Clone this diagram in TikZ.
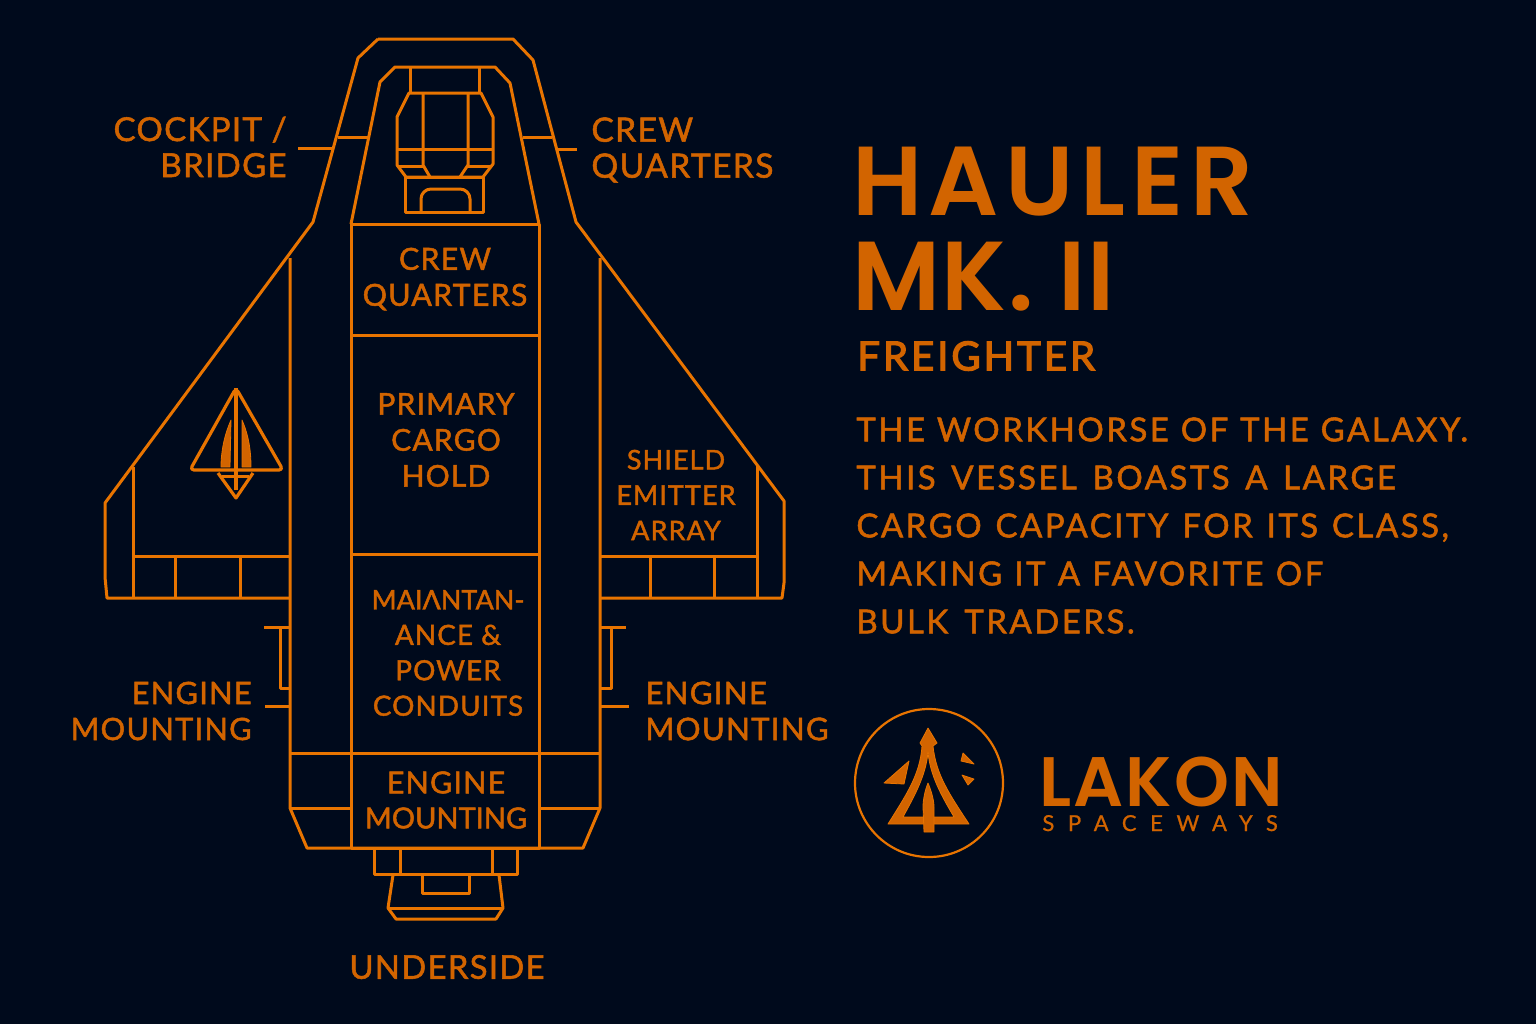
\documentclass[tikz,border=0pt]{standalone}
\usepackage{fontspec}
\setmainfont{Lato}
\newfontfamily\labelfont[LetterSpace=4,FakeBold=1.6]{Lato}
\newfontfamily\tightfont[LetterSpace=0,FakeBold=1.6]{Lato}
\newfontfamily\titlefont[LetterSpace=6.5]{Poppins SemiBold}
\newfontfamily\marktitle[LetterSpace=1.5]{Poppins SemiBold}
\newfontfamily\logofont[LetterSpace=3]{Poppins SemiBold}
\newfontfamily\subfont[LetterSpace=7.5,FakeBold=3.2]{Lato}
\newfontfamily\blurbfont[LetterSpace=7.5,FakeBold=1.6]{Lato}
\newfontfamily\wayfont[LetterSpace=62,FakeBold=.8]{Lato}
\definecolor{spacebg}{HTML}{000A1C}
\definecolor{hullline}{HTML}{E87400}
\definecolor{printtext}{HTML}{D26400}
\tikzset{
  hull/.style={draw=hullline, line width=1.5pt, line join=round},
  solid mark/.style={fill=printtext, draw=hullline, line width=.4pt, line join=round},
  tag/.style={text=printtext, font=\labelfont\fontsize{15.2}{18}\selectfont, align=center, inner sep=0pt},
  tagr/.style={tag, align=right},
  tagl/.style={tag, align=left},
  blurb/.style={text=printtext, font=\blurbfont\fontsize{16.5}{24}\selectfont, align=left, inner sep=0pt, anchor=north west},
}
\begin{document}
\begin{tikzpicture}[x=.5pt,y=-.5pt]
\fill[spacebg] (0,0) rectangle (1536,1024);
\useasboundingbox (0,0) rectangle (1536,1024);

% outer hull and wings
\draw[hull] (378,39) -- (513,39) -- (533,60) -- (576,222) -- (784,501) -- (784,583) -- (782,598)
  -- (600,598);
\draw[hull] (378,39) -- (358,58) -- (313,222) -- (105,503) -- (105,577) -- (107,598) -- (290,598);
\draw[hull] (290,258) -- (290,808) -- (307,848) -- (583,848) -- (600,808) -- (600,258);
\draw[hull] (133,467) -- (133,598);
\draw[hull] (757,465) -- (757,598);
\draw[hull] (133,556) -- (290,556);
\draw[hull] (600,556) -- (757,556);
\foreach \x in {175,240,650,714}
  \draw[hull] (\x,556) -- (\x,598);

% inner hull
\draw[hull] (351,224) -- (380,82) -- (395,67) -- (495,67) -- (510,83) -- (539,224);
\draw[hull] (351,224) rectangle (539,848);
\foreach \y in {335,554,753}
  \draw[hull] (351,\y) -- (539,\y);
\draw[hull] (290,753) -- (351,753);
\draw[hull] (539,753) -- (600,753);
\draw[hull] (290,808) -- (351,808);
\draw[hull] (539,808) -- (600,808);
\draw[hull] (338,137) -- (368,137);
\draw[hull] (523,137) -- (552,137);

% cockpit
\draw[hull] (410,68) -- (410,93);
\draw[hull] (479,68) -- (479,93);
\draw[hull] (406,177) -- (397,165) -- (397,117) -- (409,93) -- (481,93) -- (493,117) -- (493,164) -- (483,177) -- cycle;
\draw[hull] (397,149) -- (493,149);
\draw[hull] (423,93) -- (423,165) -- (430,177);
\draw[hull] (468,93) -- (468,165) -- (460,177);
\draw[hull] (399,166) -- (423,166);
\draw[hull] (468,166) -- (491,166);
\draw[hull] (405,177) rectangle (483,212);
\draw[hull, rounded corners=5pt] (421,212) -- (421,189) -- (470,189) -- (470,212);

% underside
\draw[hull] (374,848) -- (374,874) -- (517,874) -- (517,848);
\draw[hull] (400,848) -- (400,874);
\draw[hull] (492,848) -- (492,874);
\draw[hull] (393,875) -- (388,908) -- (396,919) -- (496,919) -- (503,908) -- (499,875);
\draw[hull] (388,908) -- (503,908);
\draw[hull] (422,875) -- (422,893) -- (469,893) -- (469,875);

% engine brackets
\draw[hull] (264,627) -- (290,627);
\draw[hull] (280,627) -- (280,688) -- (290,688);
\draw[hull] (600,627) -- (626,627);
\draw[hull] (611,627) -- (611,688) -- (600,688);

% wing emblem
\draw[hull, line width=1.6pt, rounded corners=2pt] (236,388) -- (283,470) -- (190,470) -- cycle;
\draw[hull, line width=1.6pt] (218,473) -- (236,498) -- (253,473);
\draw[hull] (222,476) -- (249,476);
\draw[hull, line width=1.6pt] (236,388) -- (236,490);
\fill[solid mark] (231,420) .. controls (224,436) and (221,452) .. (221,467) -- (230,467) -- cycle;
\fill[solid mark] (242,420) .. controls (249,436) and (251,452) .. (251,467) -- (242,467) -- cycle;

% labels and leaders
\node[tagr, anchor=east, font=\labelfont\fontsize{16.5}{18}\selectfont] (cockpit) at (287,147) {COCKPIT /\\BRIDGE};
\coordinate (cockpitend) at (333,148);
\draw[hull] (298,148) -- (cockpitend);
\node[tagl, anchor=west, font=\labelfont\fontsize{16.8}{18}\selectfont] (crewout) at (591,150) {CREW\\QUARTERS};
\coordinate (crewend) at (557,149);
\draw[hull] (577,149) -- (crewend);
\node[tagr, anchor=east, font=\labelfont\fontsize{15.4}{18}\selectfont] (mountl) at (252,711) {ENGINE\\MOUNTING};
\coordinate (mountlend) at (290,706);
\draw[hull] (265,706) -- (mountlend);
\node[tagl, anchor=west, font=\labelfont\fontsize{15.6}{18}\selectfont] (mountr) at (645,711) {ENGINE\\MOUNTING};
\coordinate (mountrend) at (600,706);
\draw[hull] (629,706) -- (mountrend);

\node[tag] (crew) at (445,279) {CREW\\QUARTERS};
\node[tag, font=\labelfont\fontsize{15}{18}\selectfont] (cargo) at (446,440) {PRIMARY\\CARGO\\HOLD};
\node[tag, font=\labelfont\fontsize{13.9}{17.7}\selectfont] (power) at (448,653) {{\tightfont\fontsize{13.5}{17.7}\selectfont MAIΛNTAN-}\\ANCE \&\\POWER\\CONDUITS};
\node[tag, font=\labelfont\fontsize{13.5}{17.7}\selectfont] (shield) at (676,495) {SHIELD\\EMITTER\\ARRAY};
\node[tag, font=\labelfont\fontsize{15.2}{17.5}\selectfont] (mountc) at (446,800) {ENGINE\\{\tightfont\fontsize{14.5}{17.5}\selectfont MOUNTING}};
\node[tag, font=\labelfont\fontsize{16.4}{18}\selectfont] (under) at (447,967) {UNDERSIDE};

% title block
\node[text=printtext, font=\titlefont\fontsize{49}{47.5}\selectfont, align=left, inner sep=0pt, anchor=north west] (title) at (852,147) {HAULER\\{\marktitle\fontsize{49}{47.5}\selectfont MK. II}};
\node[text=printtext, font=\subfont\fontsize{20}{24}\selectfont, inner sep=0pt, anchor=west] (class) at (857,356) {FREIGHTER};
\node[blurb] (desc) at (856,417) {{\spaceskip=5.9pt THE WORKHORSE OF THE GALAXY.}\\{\spaceskip=7.8pt THIS VESSEL BOASTS A LARGE}\\{\spaceskip=6.9pt CARGO CAPACITY FOR ITS CLASS,}\\{\spaceskip=6.1pt MAKING IT A FAVORITE OF}\\{\spaceskip=8pt BULK TRADERS.}};

% logo
\draw[hull, line width=1.1pt] (929,783) circle (74);
\fill[solid mark, even odd rule] (928,728) -- (937,743) -- (933,746) .. controls (936,775) and (950,795) .. (969,824) -- (888,824)
  .. controls (906,795) and (920,775) .. (922,746) -- (920,743) -- cycle
  (928,752) .. controls (926,775) and (915,795) .. (903,817) -- (954,817) .. controls (941,795) and (930,775) .. (928,752) -- cycle;
\fill[solid mark] (928,783) .. controls (925,790) and (923,800) .. (923,807) -- (924,832) -- (934,832) -- (934,807) .. controls (934,800) and (931,790) .. (928,783) -- cycle;
\fill[solid mark] (909,761) -- (884,783) -- (904,784) -- cycle;
\fill[solid mark] (963,753) -- (974,764) -- (961,761) -- cycle;
\fill[solid mark] (962,775) -- (974,779) -- (968,785) -- cycle;
\node[text=printtext, font=\logofont\fontsize{35}{40}\selectfont, inner sep=0pt, anchor=base west] (lakon) at (1039,806) {LAKON};
\node[text=printtext, font=\wayfont\fontsize{11}{12}\selectfont, inner sep=0pt, anchor=base west] (ways) at (1042,831) {SPACEWAYS};
\end{tikzpicture}
\end{document}
